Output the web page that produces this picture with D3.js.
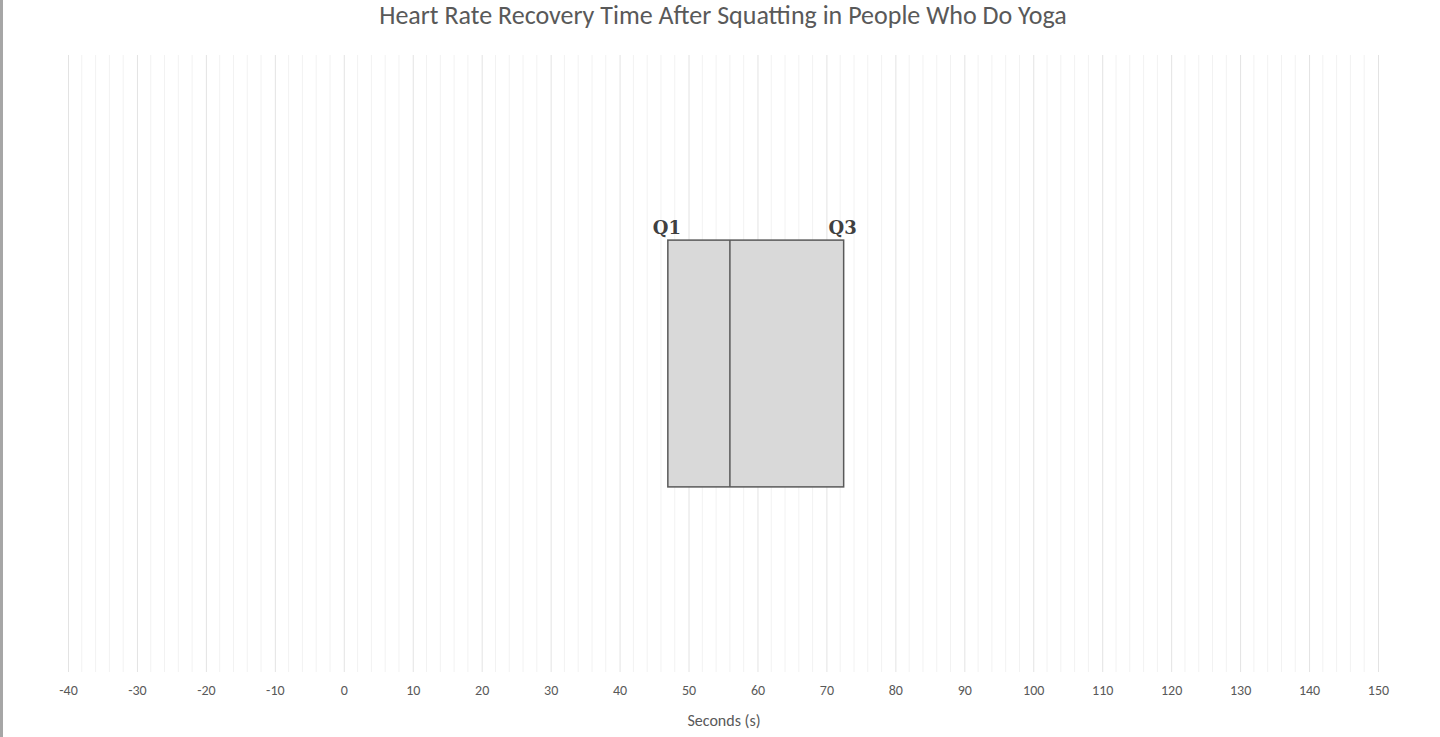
<!DOCTYPE html>
<html>
<head>
<meta charset="utf-8">
<script src="https://cdn.jsdelivr.net/npm/d3@7"></script>
<style>
  html, body { margin: 0; padding: 0; background: #fff; }
  #chart { width: 1440px; height: 737px; }
</style>
</head>
<body>
<div id="chart"></div>
<script>
/* ---------- data ---------- */
const chartTitle = "Heart Rate Recovery Time After Squatting in People Who Do Yoga";
const axisTitle = "Seconds (s)";
const xDomain = [-40, 150];
const xTicks = [-40, -30, -20, -10, 0, 10, 20, 30, 40, 50, 60, 70, 80, 90, 100, 110, 120, 130, 140, 150];
const minorStep = 2;
const categories = ["Yoga"];
const q1Values = [47];
const medianValues = [56];
const q3Values = [72.5];
const boxLabels = ["Q1", "Q3"];

/* ---------- chart ---------- */
function drawBoxChart() {
  const width = 1440, height = 737;
  const margin = { top: 55, right: 62, bottom: 65, left: 68 };
  const innerW = width - margin.left - margin.right;
  const innerH = height - margin.top - margin.bottom;

  const root = d3.select("#chart").append("svg")
    .attr("width", width)
    .attr("height", height);

  // left frame edge
  root.append("rect")
    .attr("x", 0).attr("y", 0)
    .attr("width", 3).attr("height", height)
    .attr("fill", "#a6a6a6");

  const svg = root.append("g")
    .attr("transform", `translate(${margin.left},${margin.top})`);

  const x = d3.scaleLinear().domain(xDomain).range([0, innerW]);
  const y = d3.scaleBand().domain(categories).range([0, innerH]).paddingInner(0.6).paddingOuter(0.3);

  // minor grid
  const minorTicks = d3.range(xDomain[0], xDomain[1] + 0.001, minorStep).filter(v => v % 10 !== 0);
  svg.append("g")
    .selectAll("line")
    .data(minorTicks)
    .enter().append("line")
    .attr("x1", d => x(d)).attr("x2", d => x(d))
    .attr("y1", 0).attr("y2", innerH)
    .attr("stroke", "#f2f2f2")
    .attr("stroke-width", 1);

  // major grid
  svg.append("g")
    .call(d3.axisBottom(x).tickValues(xTicks).tickSize(-innerH).tickFormat(""))
    .attr("transform", `translate(0,${innerH})`)
    .call(g => g.select(".domain").remove())
    .selectAll("line")
    .attr("stroke", "#e3e3e3");

  // X axis labels (plain hyphen for negatives)
  svg.append("g")
    .attr("transform", `translate(0,${innerH})`)
    .call(d3.axisBottom(x).tickValues(xTicks).tickSize(0).tickPadding(13).tickFormat(d => String(d)))
    .call(g => g.select(".domain").remove())
    .selectAll("text")
    .style("fill", "#595959")
    .style("font-size", "14px")
    .style("font-family", "Carlito, Calibri, Lato, sans-serif");

  // box
  const boxes = svg.selectAll(".box")
    .data(categories)
    .enter().append("g");

  boxes.append("rect")
    .attr("x", (d, i) => x(q1Values[i]))
    .attr("y", d => y(d))
    .attr("width", (d, i) => x(q3Values[i]) - x(q1Values[i]))
    .attr("height", y.bandwidth())
    .attr("fill", "#d9d9d9")
    .attr("stroke", "#595959")
    .attr("stroke-width", 1.5);

  boxes.append("line")
    .attr("x1", (d, i) => x(medianValues[i]))
    .attr("x2", (d, i) => x(medianValues[i]))
    .attr("y1", d => y(d))
    .attr("y2", d => y(d) + y.bandwidth())
    .attr("stroke", "#595959")
    .attr("stroke-width", 1.5);

  // Q1 / Q3 labels
  boxes.selectAll(".qlabel")
    .data((d, i) => [
      { text: boxLabels[0], value: q1Values[i], cat: d },
      { text: boxLabels[1], value: q3Values[i], cat: d }
    ])
    .enter().append("text")
    .attr("x", d => x(d.value) - 1)
    .attr("y", d => y(d.cat) - 6)
    .attr("text-anchor", "middle")
    .text(d => d.text)
    .style("font-size", "18px")
    .style("font-weight", "700")
    .style("fill", "#404040")
    .style("font-family", "'DejaVu Serif', 'Liberation Serif', serif");

  // title
  root.append("text")
    .attr("x", 723)
    .attr("y", 24)
    .attr("text-anchor", "middle")
    .text(chartTitle)
    .style("font-size", "26px")
    .style("fill", "#595959")
    .style("font-family", "Carlito, Calibri, Lato, sans-serif");

  // axis title
  root.append("text")
    .attr("x", 724)
    .attr("y", 726)
    .attr("text-anchor", "middle")
    .text(axisTitle)
    .style("font-size", "16px")
    .style("fill", "#595959")
    .style("font-family", "Carlito, Calibri, Lato, sans-serif");
}

drawBoxChart();
</script>
</body>
</html>
